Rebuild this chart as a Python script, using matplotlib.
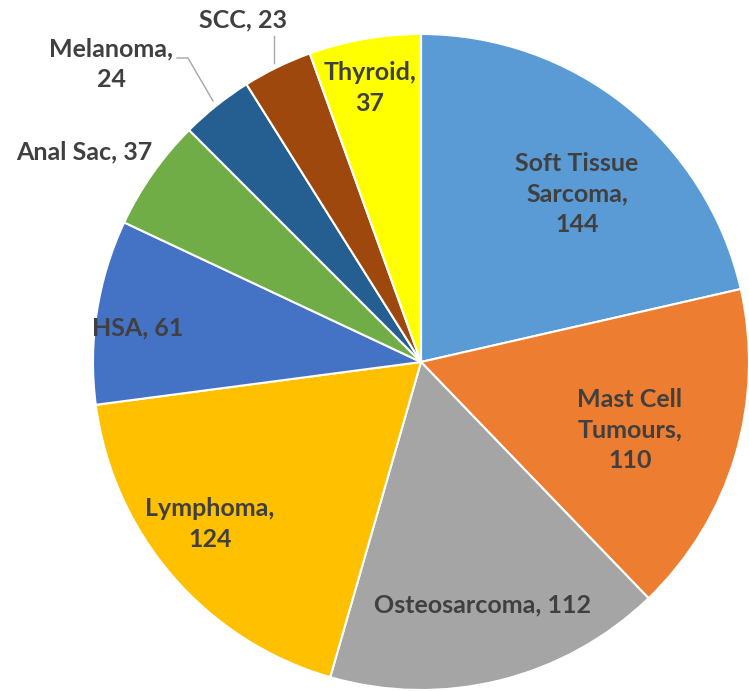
import matplotlib.pyplot as plt

# canine tumour types, clockwise from 12 o'clock
tumours = ['Soft Tissue\nSarcoma,\n144', 'Mast Cell\nTumours,\n110', 'Osteosarcoma, 112',
           'Lymphoma,\n124', 'HSA, 61', 'Anal Sac, 37', 'Melanoma,\n24', 'SCC, 23', 'Thyroid,\n37']
counts = [144, 110, 112, 124, 61, 37, 24, 23, 37]
colors = ['#5B9BD5', '#ED7D31', '#A5A5A5', '#FFC000', '#4472C4',
          '#70AD47', '#255E91', '#9E480E', '#FFFF00']

# pie centre and radius in pixels of the 749x691 canvas
CX, CY, R = 421, 362, 328
W, H = 749, 691


def px(x, y):
    return (x - CX) / R, (CY - y) / R


# label centres in pixel coords
label_px = [(577, 194), (630, 430), (483, 605), (210, 524), (138, 328),
            (84, 152), (111, 64), (243, 20), (370, 88)]

fig = plt.figure(figsize=(W / 100, H / 100), dpi=100)
ax = fig.add_axes([0, 0, 1, 1])
ax.pie(counts, colors=colors, startangle=90, counterclock=False, radius=1,
       wedgeprops=dict(edgecolor='white', linewidth=1.5))
ax.set_aspect('auto')
ax.set_xlim(-CX / R, (W - CX) / R)
ax.set_ylim(-(H - CY) / R, CY / R)
ax.axis('off')

for name, (lx, ly) in zip(tumours, label_px):
    x, y = px(lx, ly)
    ax.text(x, y, name, ha='center', va='center', fontsize=18, color='#404040',
            family='Lato', fontweight='bold', linespacing=1.4)

# leader lines for the two small outside labels
mx, my = zip(*[px(177, 58), px(188, 58), px(213, 101)])
ax.plot(mx, my, color='#A6A6A6', linewidth=1)
sx, sy = zip(*[px(274, 36), px(274, 63)])
ax.plot(sx, sy, color='#A6A6A6', linewidth=1)

fig.savefig('out.png', dpi=100, facecolor='white')
